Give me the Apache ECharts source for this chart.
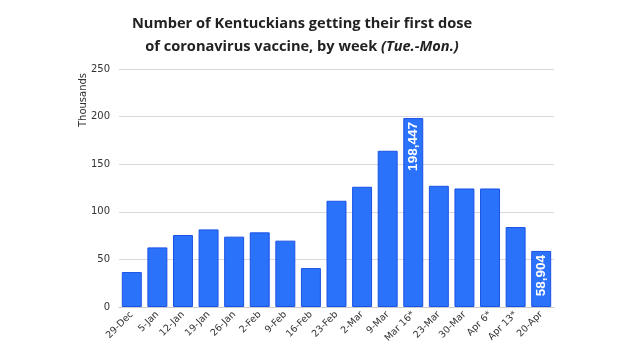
<!DOCTYPE html>
<html>
<head>
<meta charset="utf-8">
<script src="https://cdn.jsdelivr.net/npm/echarts@6/dist/echarts.min.js"></script>
<style>
  html, body { margin: 0; padding: 0; background: #fff; }
  #chart { width: 622px; height: 352px; }
</style>
</head>
<body>
<div id="chart"></div>
<script>
const weeks = ['29-Dec', '5-Jan', '12-Jan', '19-Jan', '26-Jan', '2-Feb', '9-Feb', '16-Feb', '23-Feb',
  '2-Mar', '9-Mar', 'Mar 16*', '23-Mar', '30-Mar', 'Apr 6*', 'Apr 13*', '20-Apr'];
// first doses, thousands
const firstDoses = [36.7, 62.6, 75.6, 81.5, 73.9, 78.4, 69.7, 40.9, 111.6,
  126.3, 164.1, 198.447, 127.3, 124.5, 124.5, 84.0, 58.904];
const labelled = { 11: '198,447', 16: '58,904' };

const barColor = '#2b72fb';
const barBorder = '#1a52e6';
const textColor = '#333333';

const chart = echarts.init(document.getElementById('chart'));

const seriesData = firstDoses.map((v, i) => {
  if (!labelled[i]) return v;
  return {
    value: v,
    label: {
      show: true,
      position: 'insideTop',
      rotate: 90,
      align: 'right',
      verticalAlign: 'middle',
      distance: 4,
      formatter: labelled[i],
      color: '#ffffff',
      fontFamily: 'Liberation Sans',
      fontWeight: 'bold',
      fontSize: 13.5
    }
  };
});

chart.setOption({
  animation: false,
  title: {
    text: '{b|Number of Kentuckians getting their first dose}\n{b|of coronavirus vaccine, by week }{i|(Tue.-Mon.)}',
    left: 297,
    textAlign: 'center',
    top: 7,
    textStyle: {
      rich: {
        b: { fontFamily: 'Open Sans', fontWeight: 'bold', fontSize: 14.6, color: '#222', lineHeight: 23 },
        i: { fontFamily: 'Open Sans', fontWeight: 'bold', fontStyle: 'italic', fontSize: 14.6, color: '#222', lineHeight: 23 }
      }
    }
  },
  grid: { left: 119, right: 68, top: 69, bottom: 45, containLabel: false },
  xAxis: {
    type: 'category',
    data: weeks,
    axisLine: { lineStyle: { color: '#cccccc' } },
    axisTick: { show: false },
    axisLabel: {
      rotate: 45,
      interval: 0,
      margin: 6,
      color: textColor,
      fontFamily: 'DejaVu Sans',
      fontSize: 9.5
    }
  },
  yAxis: {
    type: 'value',
    min: 0,
    max: 250,
    interval: 50,
    name: 'Thousands',
    nameLocation: 'end',
    nameRotate: 90,
    nameGap: -31,
    nameTextStyle: {
      color: textColor,
      fontFamily: 'DejaVu Sans',
      fontSize: 10,
      align: 'center',
      verticalAlign: 'bottom',
      padding: [0, 0, 31, 0]
    },
    axisLine: { show: false },
    axisTick: { show: false },
    axisLabel: { color: textColor, fontFamily: 'DejaVu Sans', fontSize: 10, margin: 9 },
    splitLine: { lineStyle: { color: '#d9d9d9', width: 1 } }
  },
  series: [{
    type: 'bar',
    data: seriesData,
    barCategoryGap: '22%',
    itemStyle: { color: barColor, borderColor: barBorder, borderWidth: 1 }
  }]
});
</script>
</body>
</html>
